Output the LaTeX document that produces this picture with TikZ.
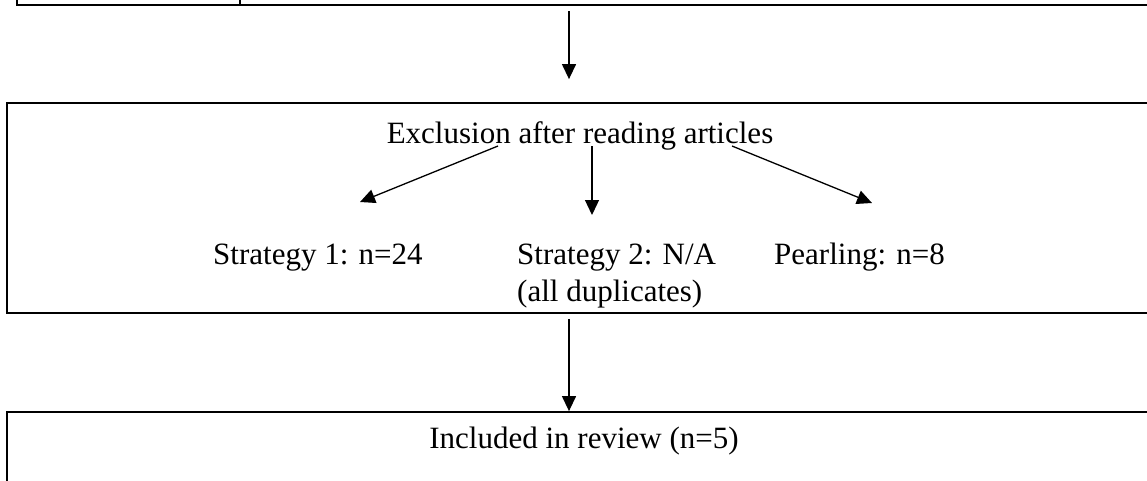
\documentclass[tikz,border=0pt]{standalone}
\usepackage{fontspec}
\setmainfont{Liberation Serif}
\usetikzlibrary{arrows.meta,positioning,calc}

\tikzset{
  box/.style={draw,line width=1.8pt,inner sep=0pt},
  arr/.style={-{Triangle[length=15pt,width=14pt]},line width=1.3pt},
  txt/.style={inner sep=0pt,font=\fontsize{31}{37}\selectfont,anchor=base west},
}

\begin{document}
\begin{tikzpicture}[x=1pt,y=-1pt]
      \useasboundingbox (0,0) rectangle (1147,480);
      % boxes, cut off by the page edges
      \node[box,line width=2.2pt,minimum width=1200pt,minimum height=100pt] (search) at (617,-45) {};
      \draw[line width=2pt] (240,5) -- (240,-95);
      \node[box,minimum width=1200pt,minimum height=210pt] (excl) at (607,208) {};
      \node[box,minimum width=1200pt,minimum height=148pt] (incl) at (607,486) {};
      % texts
      \node[txt,anchor=base] (exhead) at (580,143) {Exclusion after reading articles};
      \node[txt] (strat1) at (213,264) {Strategy 1: n=24};
      \node[txt,align=left] (strat2) at (517,301) {Strategy 2: N/A\\(all duplicates)};
      \node[txt] (pearl) at (774,264) {Pearling: n=8};
      \node[txt,anchor=base] (inclhead) at (584,448) {Included in review (n=5)};
      % arrows
      \coordinate (spine) at (569,0);
      \coordinate (tipa) at (360,202);
      \coordinate (tipb) at (592,215);
      \coordinate (tipc) at (872,203);
      \draw[arr,shorten <=5pt,shorten >=23pt] (search.south -| spine) -- (excl.north -| spine);
      \draw[arr,shorten <=5pt] (excl.south -| spine) -- (incl.north -| spine);
      \draw[arr] ([xshift=-82pt,yshift=-3pt]exhead.base) -- (tipa);
      \draw[arr] ([xshift=12pt,yshift=-3pt]exhead.base) -- (tipb);
      \draw[arr] ([xshift=152pt,yshift=-3pt]exhead.base) -- (tipc);
\end{tikzpicture}
\end{document}
